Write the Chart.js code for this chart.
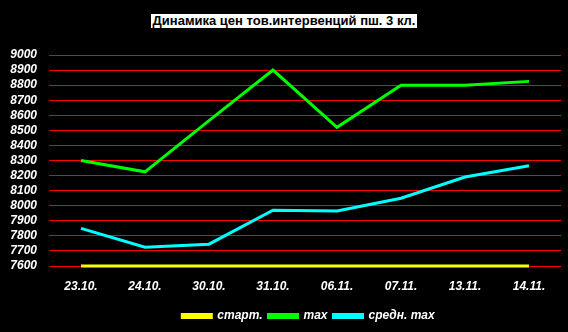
<!DOCTYPE html>
<html><head><meta charset="utf-8">
<script src="https://cdn.jsdelivr.net/npm/chart.js@4/dist/chart.umd.min.js"></script>
<style>
html,body{margin:0;padding:0;background:#000;}
#wrap{position:relative;width:568px;height:332px;background:#000;}
#title{position:absolute;top:11px;left:0;width:568px;text-align:center;}
#title span{background:#fff;color:#000;font:bold 13px "Liberation Sans",Arial,sans-serif;line-height:14px;display:inline-block;padding:0 2px;}
canvas{position:absolute;left:0;top:0;}
</style></head>
<body><div id="wrap"><div id="title"><span>Динамика цен тов.интервенций пш. 3 кл.</span></div><canvas id="c" width="568" height="332"></canvas></div>
<script>
const categories = ["23.10.","24.10.","30.10.","31.10.","06.11.","07.11.","13.11.","14.11."];
const startValues = [7600,7600,7600,7600,7600,7600,7600,7600];
const maxValues = [8300,8225,8565,8900,8520,8800,8800,8825];
const avgMaxValues = [7850,7725,7745,7970,7965,8050,8190,8265];
const seriesNames = ["старт.","max","средн. max"];

const font = {family:'"Liberation Sans", Arial, sans-serif', size:12, weight:'bold', style:'italic'};
const shiftLegend = {id:'shiftLegend', afterLayout(chart){ if(chart.legend){chart.legend.left+=28; chart.legend.right+=28;} }};
new Chart(document.getElementById('c'), {
  type:'line',
  data:{labels:categories, datasets:[
    {label:seriesNames[0], data:startValues, borderColor:'#ffff00', backgroundColor:'#ffff00', clip:6},
    {label:seriesNames[1], data:maxValues, borderColor:'#00ff00', backgroundColor:'#00ff00', clip:6},
    {label:seriesNames[2], data:avgMaxValues, borderColor:'#00ffff', backgroundColor:'#00ffff', clip:6}
  ]},
  options:{
    responsive:false, animation:false,
    layout:{padding:{left:0,right:7,top:55,bottom:0}},
    elements:{line:{borderWidth:3,tension:0}, point:{radius:0}},
    scales:{
      x:{offset:true, grid:{display:false}, border:{display:false},
         ticks:{color:'#fff', font:font, padding:5, maxRotation:0},
         afterFit(s){s.height=38;}},
      y:{min:7600,max:9000, grid:{color:'#ff0000',lineWidth:1,drawTicks:false}, border:{display:false},
         ticks:{stepSize:100,color:'#fff',font:font,padding:12,autoSkip:false, callback:(v)=>String(v)},
         afterFit(s){s.width=49;}}
    },
    plugins:{
      legend:{position:'bottom', labels:{color:'#fff', font:font, boxWidth:29, boxHeight:3, padding:6}},
      tooltip:{enabled:false}
    }
  },
  plugins:[shiftLegend]
});
</script></body></html>
